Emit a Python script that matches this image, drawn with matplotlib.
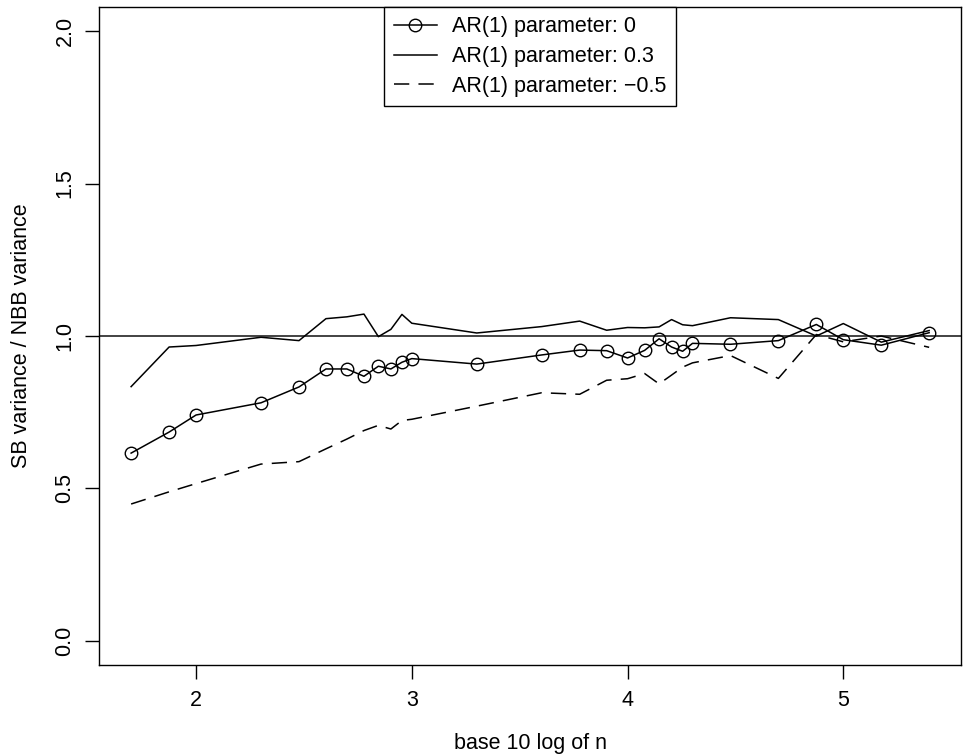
import numpy as np
import matplotlib
matplotlib.use("Agg")
import matplotlib.pyplot as plt

# sample sizes (x axis is log10 of these)
n = [50, 75, 100, 200, 300, 400, 500, 600, 700, 800, 900, 1000,
     2000, 4000, 6000, 8000, 10000, 12000, 14000, 16000, 18000, 20000,
     30000, 50000, 75000, 100000, 150000, 250000]

# ratio SB variance / NBB variance
ar_0 = [0.616, 0.685, 0.741, 0.781, 0.833, 0.892, 0.892, 0.868, 0.901, 0.892,
        0.914, 0.926, 0.908, 0.938, 0.954, 0.952, 0.928, 0.953, 0.991, 0.964,
        0.950, 0.976, 0.973, 0.985, 1.038, 0.988, 0.970, 1.011]
ar_03 = [0.834, 0.964, 0.969, 0.996, 0.985, 1.057, 1.063, 1.072, 0.998, 1.022,
         1.071, 1.042, 1.010, 1.031, 1.049, 1.019, 1.028, 1.027, 1.030, 1.054,
         1.037, 1.034, 1.060, 1.054, 1.000, 1.041, 0.980, 1.018]
ar_m05 = [0.449, 0.489, 0.516, 0.580, 0.588, 0.630, 0.662, 0.690, 0.707, 0.695,
          0.723, 0.727, 0.770, 0.814, 0.809, 0.855, 0.860, 0.877, 0.843, 0.872,
          0.898, 0.912, 0.936, 0.861, 1.005, 0.981, 1.000, 0.963]

labels = ["AR(1) parameter: 0", "AR(1) parameter: 0.3", "AR(1) parameter: \u22120.5"]

plt.rcParams['font.family'] = ['Liberation Sans', 'DejaVu Sans']
plt.rcParams['font.size'] = 15.5

x = np.log10(n)

fig = plt.figure(figsize=(9.63, 7.56), dpi=100)
ax = fig.add_axes([0.103, 0.120, 0.895, 0.871])

ax.axhline(1.0, color='#222222', lw=1.2, zorder=1)
ax.plot(x, ar_0, color='black', lw=1.1, marker='o', markersize=9,
        markerfacecolor='none', markeredgewidth=1.0, label=labels[0])
ax.plot(x, ar_03, color='black', lw=1.1, label=labels[1])
ax.plot(x, ar_m05, color='black', lw=1.1, dashes=(10, 6), label=labels[2])

span = x.max() - x.min()
ax.set_xlim(x.min() - 0.04 * span, x.max() + 0.04 * span)
ax.set_ylim(-0.08, 2.08)
ax.set_xticks([2, 3, 4, 5])
ax.set_yticks([0.0, 0.5, 1.0, 1.5, 2.0])
ax.set_yticklabels(['0.0', '0.5', '1.0', '1.5', '2.0'], rotation=90, va='center')
ax.tick_params(direction='out', length=10, width=1, pad=8, labelsize=15.5)
ax.tick_params(axis='y', pad=7)

for s in ax.spines.values():
    s.set_linewidth(1.0)
    s.set_color('black')

ax.set_xlabel('base 10 log of n', fontsize=15.5)
ax.xaxis.set_label_coords(0.5, -0.103)
ax.set_ylabel('SB variance / NBB variance', fontsize=15.5)
ax.yaxis.set_label_coords(-0.078, 0.5)

leg = ax.legend(loc='upper center', bbox_to_anchor=(0.5, 1.0), borderaxespad=0,
                fancybox=False, framealpha=1, edgecolor='black', fontsize=15.5,
                handlelength=2.0, handletextpad=0.7, borderpad=0.45,
                labelspacing=0.4)
leg.get_frame().set_linewidth(1.0)

fig.savefig('out.png', dpi=100)
